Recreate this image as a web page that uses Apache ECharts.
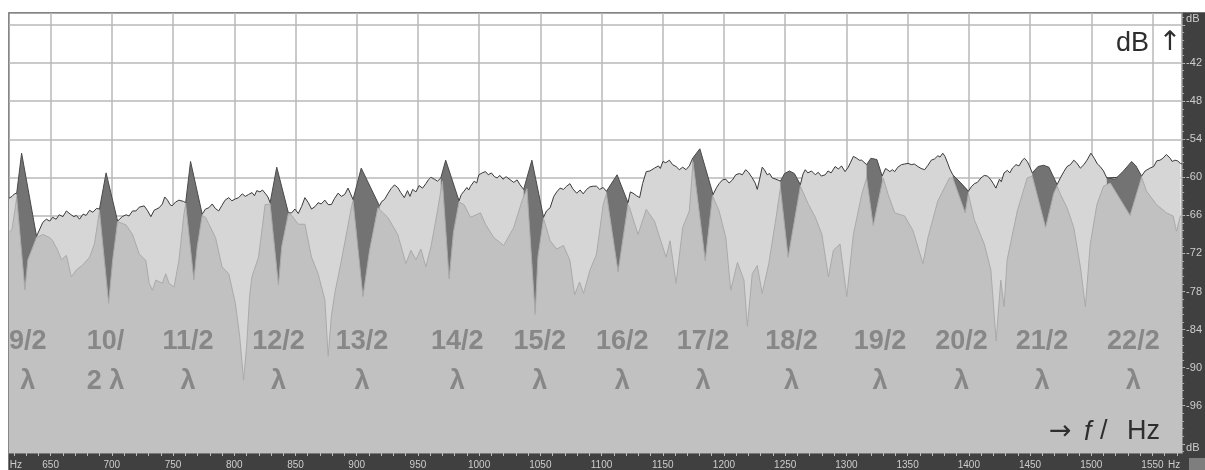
<!DOCTYPE html>
<html>
<head>
<meta charset="utf-8">
<script src="https://cdn.jsdelivr.net/npm/echarts@6/dist/echarts.min.js"></script>
<style>
  html, body { margin: 0; padding: 0; background: #ffffff; }
  #chart { width: 1205px; height: 470px; }
</style>
</head>
<body>
<div id="chart"></div>
<script>
// Frequency range (Hz) and level range (dB) of the spectrum view
const HZ_MIN = 616.0;
const HZ_MAX = 1574.2;
const DB_MIN = -103.45;
const DB_MAX = -34.1;

// Gridlines / tick labels
const hzGrid = [650, 700, 750, 800, 850, 900, 950, 1000, 1050, 1100, 1150, 1200, 1250, 1300, 1350, 1400, 1450, 1500, 1550];
const hzUnitPos = [621.7, 1567.6];          // where the "Hz" unit labels sit
const dbGrid = [-102, -96, -90, -84, -78, -72, -66, -60, -54, -48, -42, -36];
const dbLabels = [-96, -90, -84, -78, -72, -66, -60, -54, -48, -42];
const dbUnitPos = [-102.6, -35.1];          // where the "dB" unit labels sit

// Upper spectrum (outlined envelope), [Hz, dB]
const envelope = [
  [616.0,-63.3],[618.5,-63.0],[620.5,-62.6],[622.3,-62.5],
  [638.5,-69.3],[643.6,-67.1],[646.5,-66.6],[649.3,-66.9],[651.7,-66.3],[654.5,-66.6],[657.0,-65.9],[660.0,-66.2],[662.9,-65.3],[666.0,-65.8],[669.0,-66.2],[671.0,-66.0],[673.6,-66.6],[676.5,-65.8],[679.0,-66.0],[681.8,-65.2],[684.5,-65.5],[687.5,-64.9],[689.9,-65.0],
  [704.7,-66.9],[706.1,-66.6],[708.5,-66.2],[711.6,-65.9],[714.0,-66.1],[716.9,-65.3],[719.7,-65.3],[722.4,-64.7],[726.4,-64.5],[729.0,-65.2],[731.9,-66.2],[734.5,-65.2],[738.6,-64.8],[741.3,-64.2],[743.2,-63.1],[745.5,-63.6],[747.5,-64.3],[749.2,-64.5],[752.0,-63.9],[754.8,-63.6],[756.2,-63.5],[758.5,-63.8],[760.3,-64.0],
  [773.8,-65.8],[776.5,-65.0],[779.2,-64.8],[782.0,-64.2],[784.5,-64.9],[787.3,-65.3],[790.0,-64.4],[792.5,-63.6],[795.5,-63.2],[798.0,-63.7],[800.9,-63.4],[803.6,-63.2],[806.5,-62.6],[809.0,-63.0],[811.7,-62.7],[814.5,-62.4],[816.5,-62.9],[818.4,-62.1],[821.0,-62.3],[823.0,-62.0],[825.2,-62.5],[827.5,-63.1],[829.3,-64.0],
  [844.2,-65.6],[846.9,-65.6],[849.5,-65.0],[852.3,-65.7],[855.0,-64.6],[857.7,-63.2],[860.5,-64.0],[863.1,-65.0],[866.0,-64.6],[868.5,-64.0],[871.0,-64.2],[874.0,-63.6],[876.7,-64.3],[879.3,-64.3],[882.0,-63.3],[884.8,-62.5],[887.5,-63.0],[890.2,-62.7],[892.9,-61.7],[895.0,-62.6],[897.0,-63.5],
  [918.6,-64.5],[920.5,-63.8],[922.7,-63.5],[925.4,-62.6],[928.0,-61.8],[930.8,-61.2],[933.5,-61.6],[936.0,-62.4],[938.9,-63.2],[941.5,-62.1],[943.5,-63.0],[945.7,-61.9],[948.4,-62.3],[951.0,-61.3],[953.8,-61.7],[956.5,-61.0],[958.5,-60.4],[960.6,-60.0],[963.5,-60.3],[966.0,-60.6],[968.7,-60.1],
  [983.6,-63.7],[985.5,-62.7],[987.6,-62.2],[990.0,-61.6],[991.5,-62.0],[993.0,-61.4],[996.0,-60.6],[998.0,-60.9],[999.8,-59.6],[1002.5,-59.3],[1005.2,-59.1],[1007.5,-59.6],[1010.0,-59.3],[1012.5,-59.9],[1014.7,-60.1],[1017.0,-59.7],[1019.5,-60.3],[1022.0,-59.9],[1025.5,-60.4],[1028.3,-60.8],[1031.0,-60.4],[1033.5,-61.2],[1036.4,-61.9],
  [1052.6,-66.3],[1055.0,-65.3],[1058.0,-64.8],[1061.0,-63.0],[1063.4,-62.3],[1066.1,-61.7],[1068.9,-61.9],[1071.5,-61.4],[1074.2,-61.0],[1076.5,-61.8],[1079.7,-62.5],[1082.5,-62.0],[1085.0,-62.6],[1087.8,-61.9],[1090.5,-61.5],[1093.2,-61.4],[1095.9,-61.4],[1098.5,-61.9],[1101.3,-61.6],[1104.0,-62.2],
  [1121.6,-64.0],[1123.5,-62.3],[1125.7,-62.5],[1128.5,-62.9],[1131.1,-63.2],[1133.5,-61.0],[1136.5,-59.1],[1139.5,-59.0],[1143.2,-58.55],[1146.5,-58.2],[1148.0,-58.6],[1150.1,-57.5],[1152.5,-57.7],[1155.4,-57.3],[1158.0,-58.0],[1160.9,-58.3],[1163.5,-58.8],[1166.3,-58.4],[1169.0,-58.8],[1171.7,-58.2],[1174.4,-57.0],
  [1191.1,-62.7],[1194.0,-61.6],[1196.0,-61.0],[1198.8,-60.4],[1201.5,-60.3],[1204.2,-60.9],[1207.0,-60.4],[1209.6,-59.6],[1212.5,-59.4],[1215.0,-59.6],[1217.7,-58.8],[1220.0,-59.2],[1223.1,-60.1],[1225.5,-60.9],[1227.2,-61.9],[1229.0,-60.4],[1231.2,-58.4],[1233.0,-58.8],[1235.3,-59.6],[1237.3,-59.4],[1239.4,-60.1],[1242.5,-60.3],[1246.1,-60.6],
  [1262.4,-61.15],[1264.5,-59.5],[1266.4,-58.8],[1268.5,-59.3],[1271.5,-59.0],[1274.6,-59.6],[1277.0,-59.2],[1279.5,-59.8],[1282.7,-59.6],[1285.0,-59.0],[1287.5,-59.3],[1290.8,-58.3],[1293.5,-58.7],[1296.0,-58.2],[1298.9,-59.1],[1301.5,-58.4],[1303.5,-57.6],[1305.7,-56.7],[1308.5,-57.0],[1310.5,-57.3],[1312.5,-57.3],[1316.5,-58.0],
  [1329.2,-59.8],[1332.0,-58.6],[1335.5,-59.1],[1337.5,-58.8],[1339.5,-59.1],[1342.0,-58.4],[1345.0,-58.0],[1347.6,-57.9],[1350.3,-57.8],[1353.0,-58.0],[1355.5,-57.9],[1358.4,-58.3],[1361.0,-58.6],[1363.9,-58.8],[1366.6,-58.1],[1369.3,-57.3],[1372.0,-57.1],[1374.7,-56.6],[1376.5,-56.8],[1378.7,-56.2],[1380.5,-56.7],[1382.8,-57.8],[1384.5,-58.7],[1386.9,-59.6],
  [1399.6,-62.2],[1402.0,-61.5],[1404.5,-61.0],[1407.0,-60.8],[1409.9,-60.1],[1412.6,-59.7],[1415.3,-59.8],[1418.0,-60.4],[1420.0,-61.0],[1422.1,-61.7],[1425.0,-60.3],[1426.5,-60.7],[1428.8,-59.3],[1431.5,-58.9],[1433.5,-59.3],[1435.6,-58.55],[1438.5,-58.0],[1441.0,-58.2],[1443.7,-57.3],[1445.5,-57.0],[1447.7,-57.5],[1449.5,-58.2],[1451.8,-59.3],
  [1472.1,-61.15],[1474.5,-60.2],[1477.6,-59.1],[1480.2,-58.3],[1483.0,-58.0],[1485.7,-57.3],[1488.0,-57.7],[1491.1,-58.55],[1494.0,-58.0],[1496.5,-57.3],[1499.7,-56.2],[1502.5,-57.0],[1505.0,-57.9],[1507.3,-58.3],[1510.0,-59.0],[1512.7,-60.1],
  [1541.1,-59.8],[1544.0,-59.0],[1547.9,-58.55],[1551.0,-58.3],[1553.5,-57.4],[1556.1,-57.3],[1558.5,-57.0],[1561.4,-56.4],[1564.5,-57.0],[1566.0,-57.5],[1568.3,-57.3],[1570.5,-57.4],[1572.8,-57.8],[1574.2,-57.9]
];

// Resonance peaks of the second spectrum, [Hz, dB]
const resonances = [
  [[622.3,-62.5],[626.3,-56.2],[638.5,-69.3]],
  [[689.9,-65.0],[695.3,-59.3],[704.7,-66.9]],
  [[760.3,-64.0],[764.3,-57.5],[773.8,-65.8]],
  [[829.3,-64.0],[834.7,-58.4],[844.2,-65.6]],
  [[897.0,-63.5],[903.7,-58.55],[918.6,-64.5]],
  [[968.7,-60.1],[972.7,-57.3],[983.6,-63.7]],
  [[1036.4,-61.9],[1043.1,-57.3],[1052.6,-66.3]],
  [[1104.0,-62.2],[1112.7,-59.6],[1121.6,-64.0]],
  [[1174.4,-57.0],[1180.3,-55.5],[1191.1,-62.7]],
  [[1246.1,-60.6],[1249.5,-59.4],[1253.5,-59.0],[1257.5,-59.4],[1262.4,-61.15]],
  [[1316.5,-58.0],[1320.0,-57.0],[1324.9,-57.2],[1329.2,-59.8]],
  [[1386.9,-59.6],[1393.0,-60.8],[1399.6,-62.2]],
  [[1451.8,-59.3],[1456.5,-58.3],[1461.0,-58.1],[1465.4,-58.4],[1472.1,-61.15]],
  [[1512.7,-60.1],[1519.5,-60.3],[1526.3,-59.0],[1533.0,-57.5],[1536.5,-58.2],[1541.1,-59.8]]
];

// Lower spectrum with its standing-wave notches, [Hz, dB]
const lower = [
  [616.0,-68.7],[618.4,-68.2],[620.5,-65.6],[622.3,-63.2],[629.0,-77.7],[631.4,-73.0],[638.5,-69.5],[643.6,-69.0],[649.3,-69.5],[651.7,-70.0],[655.8,-71.5],[658.8,-73.0],[662.9,-72.3],[666.9,-75.7],[671.0,-74.6],[676.3,-73.8],[681.8,-72.6],[685.8,-70.5],[689.9,-65.3],
  [697.4,-79.85],[700.7,-73.0],[704.7,-67.0],[706.1,-66.7],[711.6,-67.5],[716.9,-69.0],[722.4,-72.1],[727.8,-73.1],[730.5,-76.7],[733.2,-77.8],[735.9,-76.2],[741.3,-76.7],[744.0,-75.2],[746.7,-76.7],[750.8,-77.3],[754.8,-73.1],[758.9,-65.8],[760.3,-64.2],
  [767.0,-76.2],[769.7,-71.0],[773.8,-66.0],[776.5,-66.3],[784.7,-69.5],[790.0,-74.1],[795.5,-75.2],[800.9,-79.9],[804.4,-85.0],[807.6,-92.0],[810.1,-86.6],[812.5,-78.8],[814.4,-75.7],[819.8,-72.6],[825.2,-64.3],[829.3,-64.2],
  [836.1,-77.0],[838.7,-71.0],[844.2,-65.7],[846.9,-66.0],[852.3,-67.4],[857.7,-67.4],[863.1,-72.6],[868.5,-75.2],[874.0,-79.3],[876.7,-88.2],[879.3,-81.9],[882.1,-78.3],[887.5,-73.1],[895.6,-64.8],[897.0,-63.7],
  [905.1,-78.8],[910.5,-71.5],[917.3,-64.8],[918.6,-64.6],[925.4,-66.3],[933.5,-69.0],[940.2,-73.6],[944.3,-71.5],[948.4,-73.0],[952.4,-71.3],[956.5,-74.1],[960.6,-71.0],[966.0,-65.3],[970.0,-60.6],
  [975.5,-76.0],[979.0,-68.7],[983.6,-63.9],[987.6,-64.3],[993.0,-66.3],[1001.1,-65.6],[1005.2,-67.4],[1012.0,-69.5],[1020.1,-70.75],[1028.3,-67.9],[1035.0,-63.7],[1039.1,-61.8],
  [1045.8,-81.6],[1048.0,-72.6],[1052.6,-66.5],[1058.0,-70.0],[1063.4,-71.3],[1068.9,-70.75],[1074.2,-73.1],[1078.0,-78.5],[1082.1,-76.5],[1085.3,-78.3],[1090.5,-74.65],[1095.9,-72.1],[1101.3,-64.3],[1104.0,-62.6],
  [1113.5,-74.9],[1121.6,-64.3],[1122.9,-64.8],[1129.8,-69.0],[1136.5,-65.05],[1143.2,-66.9],[1152.7,-72.6],[1156.0,-70.0],[1160.9,-76.7],[1166.3,-67.9],[1171.7,-65.3],[1174.7,-57.6],
  [1184.7,-73.1],[1190.6,-62.9],[1196.0,-65.3],[1201.5,-69.5],[1205.5,-77.8],[1211.0,-73.4],[1216.3,-76.2],[1219.1,-83.5],[1223.1,-75.2],[1227.2,-73.9],[1231.2,-78.3],[1236.6,-73.6],[1242.1,-66.9],[1246.1,-61.7],
  [1252.4,-72.6],[1262.4,-61.4],[1269.1,-64.3],[1274.6,-66.3],[1280.0,-69.0],[1285.3,-75.7],[1289.4,-71.5],[1294.8,-70.5],[1300.3,-78.8],[1305.7,-69.0],[1312.5,-62.7],[1316.5,-60.1],
  [1321.9,-67.6],[1330.0,-60.1],[1334.1,-62.7],[1339.5,-65.6],[1347.6,-66.1],[1354.4,-68.4],[1362.5,-73.6],[1366.6,-69.5],[1374.7,-63.7],[1384.2,-60.1],[1386.9,-60.1],
  [1397.0,-65.6],[1399.6,-62.6],[1404.5,-66.7],[1412.6,-70.5],[1418.0,-74.6],[1422.3,-85.8],[1426.1,-76.2],[1428.8,-80.4],[1431.3,-73.0],[1439.6,-65.3],[1447.7,-60.1],[1451.8,-59.8],
  [1462.7,-67.9],[1469.4,-62.5],[1472.1,-61.4],[1474.9,-62.7],[1480.2,-64.8],[1485.7,-67.9],[1491.1,-74.1],[1495.2,-80.4],[1499.2,-70.5],[1504.6,-64.3],[1510.0,-61.4],[1515.5,-60.9],
  [1531.7,-66.0],[1541.1,-60.0],[1545.2,-62.2],[1553.3,-64.3],[1561.4,-65.6],[1566.9,-66.1],[1569.6,-68.5],[1572.8,-66.1],[1574.2,-66.3]
];

// Half-wavelength annotations and where they are written
const harmonicLabels = ['9/2\nλ', '10/\n2 λ', '11/2\nλ', '12/2\nλ', '13/2\nλ', '14/2\nλ', '15/2\nλ',
                        '16/2\nλ', '17/2\nλ', '18/2\nλ', '19/2\nλ', '20/2\nλ', '21/2\nλ', '22/2\nλ'];
const harmonicLabelHz = [631.4, 694.8, 762.2, 836.1, 904.3, 982.2, 1049.6, 1117.0, 1182.8, 1255.1, 1327.4, 1394.0, 1459.8, 1534.4];
const harmonicLabelDb = -89.0;

// Minor ticks: 10 Hz steps, 5 subdivisions per dB grid step
const hzMinor = [];
for (let f = 620; f <= 1570; f += 10) hzMinor.push(f);
const dbMinor = [];
for (let i = 0; i < dbGrid.length - 1; i++) {
  for (let k = 0; k < 5; k++) dbMinor.push(+(dbGrid[i] + k * 1.2).toFixed(1));
}
dbMinor.push(-36, -34.8, -103.2);

// Resonance polygons joined into one series, broken apart by gaps
const resonanceData = [];
resonances.forEach((peak, i) => {
  if (i > 0) resonanceData.push([peak[0][0] - 0.05, '-']);
  peak.forEach(p => resonanceData.push(p));
});

const AXIS_TXT = '#cdcdcd';
const SCALE_FONT = 'Liberation Sans';

const chart = echarts.init(document.getElementById('chart'), null, { renderer: 'canvas' });

chart.setOption({
  animation: false,
  backgroundColor: '#404040',
  grid: {
    left: 9, top: 13, right: 16, bottom: 12,
    show: true, backgroundColor: '#ffffff',
    borderColor: '#8c8c8c', borderWidth: 1.5
  },
  graphic: [
    { type: 'rect', z: -10, shape: { x: 0, y: 0, width: 1205, height: 12.3 }, style: { fill: '#ffffff' } },
    { type: 'rect', z: -10, shape: { x: 0, y: 0, width: 8.3, height: 470 }, style: { fill: '#ffffff' } },
    { type: 'rect', z: -10, shape: { x: 1189, y: 458, width: 16, height: 12 }, style: { fill: '#7e7e7e' } },
    { type: 'text', z: 50, style: { text: 'dB', x: 1116, y: 44, fill: '#2e2e2e', font: '27px "Liberation Sans"', verticalAlign: 'middle' } },
    { type: 'text', z: 50, style: { text: '↑', x: 1170, y: 43, fill: '#2e2e2e', font: '27px "DejaVu Sans"', align: 'center', verticalAlign: 'middle' } },
    { type: 'text', z: 50, style: { text: '→', x: 1049, y: 432, fill: '#2e2e2e', font: '27px "DejaVu Sans"', verticalAlign: 'middle' } },
    { type: 'text', z: 50, style: { text: 'f', x: 1084, y: 432, fill: '#2e2e2e', font: 'italic 27px "Liberation Sans"', verticalAlign: 'middle' } },
    { type: 'text', z: 50, style: { text: '/', x: 1100, y: 432, fill: '#2e2e2e', font: '27px "Liberation Sans"', verticalAlign: 'middle' } },
    { type: 'text', z: 50, style: { text: 'Hz', x: 1127, y: 432, fill: '#2e2e2e', font: '27px "Liberation Sans"', verticalAlign: 'middle' } }
  ],
  xAxis: [
    {
      type: 'value', min: HZ_MIN, max: HZ_MAX, position: 'bottom',
      axisLine: { show: false },
      axisTick: { show: false, customValues: hzGrid },
      axisLabel: {
        customValues: hzUnitPos.concat(hzGrid),
        formatter: v => (v < 640 || v > 1560) ? 'Hz' : String(Math.round(v)),
        color: AXIS_TXT, fontSize: 10, fontFamily: SCALE_FONT, margin: 7
      },
      splitLine: { show: true, lineStyle: { color: '#b9b9b9', width: 1.5 } }
    },
    {
      type: 'value', min: HZ_MIN, max: HZ_MAX, position: 'bottom',
      axisLine: { show: false },
      axisTick: { show: true, length: 3, customValues: hzMinor, lineStyle: { color: '#bdbdbd', width: 1 } },
      axisLabel: { show: false },
      splitLine: { show: false }
    }
  ],
  yAxis: [
    {
      type: 'value', min: DB_MIN, max: DB_MAX, position: 'right',
      axisLine: { show: false },
      axisTick: { show: true, length: 3, customValues: dbGrid, lineStyle: { color: '#c4c4c4', width: 1 } },
      axisLabel: {
        customValues: dbUnitPos.concat(dbLabels),
        formatter: v => (v < -102 || v > -36) ? 'dB' : String(v),
        color: AXIS_TXT, fontSize: 11, fontFamily: SCALE_FONT, margin: 4
      },
      splitLine: { show: true, lineStyle: { color: '#b9b9b9', width: 1.5 } }
    },
    {
      type: 'value', min: DB_MIN, max: DB_MAX, position: 'right',
      axisLine: { show: false },
      axisTick: { show: true, length: 2, customValues: dbMinor, lineStyle: { color: '#a8a8a8', width: 1 } },
      axisLabel: { show: false },
      splitLine: { show: false }
    }
  ],
  series: [
    {
      name: 'envelope', type: 'line', z: 2, xAxisIndex: 0, yAxisIndex: 0,
      data: envelope, showSymbol: false, symbol: 'none', silent: true,
      lineStyle: { color: '#3a3a3a', width: 1 },
      areaStyle: { color: '#d6d6d6', opacity: 1, origin: 'start' }
    },
    {
      name: 'resonances', type: 'line', z: 3, xAxisIndex: 0, yAxisIndex: 0,
      data: resonanceData, showSymbol: false, symbol: 'none', silent: true, connectNulls: false,
      lineStyle: { color: '#4a4a4a', width: 1 },
      areaStyle: { color: '#737373', opacity: 1, origin: 'start' }
    },
    {
      name: 'lower', type: 'line', z: 4, xAxisIndex: 0, yAxisIndex: 0,
      data: lower, showSymbol: false, symbol: 'none', silent: true,
      lineStyle: { color: '#aaaaaa', width: 1 },
      areaStyle: { color: '#c1c1c1', opacity: 1, origin: 'start' }
    },
    {
      name: 'harmonics', type: 'custom', z: 5, xAxisIndex: 0, yAxisIndex: 0, silent: true,
      data: harmonicLabelHz.map(f => [f, harmonicLabelDb]),
      renderItem: (params, api) => {
        const p = api.coord([api.value(0), api.value(1)]);
        return {
          type: 'text', x: p[0], y: p[1],
          style: {
            text: harmonicLabels[params.dataIndex],
            font: 'bold 27px "Liberation Sans"', lineHeight: 40,
            fill: '#878787', align: 'center', verticalAlign: 'middle'
          }
        };
      }
    }
  ]
});
</script>
</body>
</html>
